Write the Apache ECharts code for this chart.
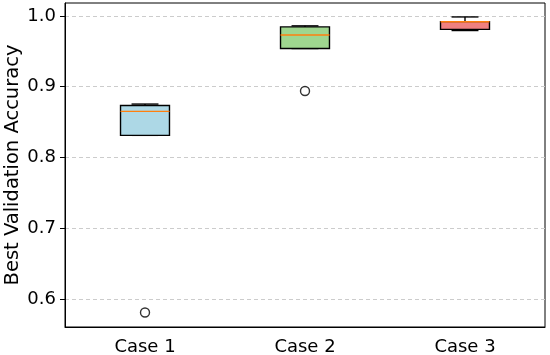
<!DOCTYPE html>
<html>
<head>
<meta charset="utf-8">
<script src="https://cdn.jsdelivr.net/npm/echarts@6/dist/echarts.min.js"></script>
<style>html,body{margin:0;padding:0;background:#fff}#c{width:550px;height:355px}</style>
</head>
<body>
<div id="c"></div>
<script>
var categories = ['Case 1', 'Case 2', 'Case 3'];
// [lower whisker, Q1, median, Q3, upper whisker]
var boxStats = [
  [0.8313, 0.8313, 0.8652, 0.8735, 0.8755],
  [0.954, 0.954, 0.973, 0.9845, 0.986],
  [0.9794, 0.981, 0.9918, 0.992, 0.9986]
];
var outliers = [[0, 0.581], [1, 0.894]];
var boxColors = ['#add8e6', '#9fd68f', '#f08080'];
var yTicks = [0.6, 0.7, 0.8, 0.9, 1.0];

var FONT = 'DejaVu Sans';
var chart = echarts.init(document.getElementById('c'), null, {renderer: 'canvas'});

var boxData = boxStats.map(function (s, i) { return [i].concat(s); });

function renderBox(params, api) {
  var i = api.value(0);
  var lo = api.coord([i, api.value(1)]);
  var q1 = api.coord([i, api.value(2)]);
  var med = api.coord([i, api.value(3)]);
  var q3 = api.coord([i, api.value(4)]);
  var hi = api.coord([i, api.value(5)]);
  var band = api.size([1, 0])[0];
  var bw = band * 0.306;
  var cw = bw * 0.55;
  var x = q1[0];
  var ls = {stroke: '#000', lineWidth: 1.4};
  return {
    type: 'group',
    children: [
      {type: 'line', shape: {x1: x, y1: q3[1], x2: x, y2: hi[1]}, style: ls},
      {type: 'line', shape: {x1: x, y1: q1[1], x2: x, y2: lo[1]}, style: ls},
      {type: 'line', shape: {x1: x - cw / 2, y1: hi[1], x2: x + cw / 2, y2: hi[1]}, style: ls},
      {type: 'line', shape: {x1: x - cw / 2, y1: lo[1], x2: x + cw / 2, y2: lo[1]}, style: ls},
      {type: 'rect', shape: {x: x - bw / 2, y: q3[1], width: bw, height: q1[1] - q3[1]},
        style: {fill: boxColors[i], stroke: '#000', lineWidth: 1.4}},
      {type: 'line', shape: {x1: x - bw / 2, y1: med[1], x2: x + bw / 2, y2: med[1]},
        style: {stroke: '#ff7f0e', lineWidth: 1.4}}
    ]
  };
}

chart.setOption({
  animation: false,
  grid: {left: 65, right: 5, top: 3, bottom: 28, containLabel: false, outerBoundsMode: 'none',
    show: true, borderColor: '#000', borderWidth: 1, backgroundColor: 'transparent'},
  xAxis: {
    type: 'category',
    data: categories,
    boundaryGap: true,
    axisLine: {lineStyle: {color: '#000', width: 1}},
    axisTick: {alignWithLabel: true, length: 5, lineStyle: {color: '#000'}},
    axisLabel: {color: '#000', fontFamily: FONT, fontSize: 18, margin: 11},
    splitLine: {show: false}
  },
  yAxis: {
    type: 'value',
    min: 0.5605,
    max: 1.0183,
    name: 'Best Validation Accuracy',
    nameLocation: 'middle',
    nameGap: 42,
    nameMoveOverlap: false,
    nameTextStyle: {color: '#000', fontFamily: FONT, fontSize: 19.5},
    axisLine: {show: true, lineStyle: {color: '#000', width: 1}},
    axisTick: {show: true, length: 5, lineStyle: {color: '#000'}, customValues: yTicks},
    axisLabel: {color: '#000', fontFamily: FONT, fontSize: 18, margin: 9, customValues: yTicks,
      formatter: function (v) { return v.toFixed(1); }},
    splitLine: {show: true, lineStyle: {color: '#cccccc', type: [4, 3], width: 1}}
  },
  series: [
    {
      type: 'custom',
      renderItem: renderBox,
      encode: {x: 0, y: [1, 2, 3, 4, 5]},
      data: boxData,
      z: 3
    },
    {
      type: 'scatter',
      data: outliers,
      symbol: 'circle',
      symbolSize: 9,
      itemStyle: {color: '#fff', borderColor: '#000', borderWidth: 1.4},
      z: 4
    }
  ]
});
</script>
</body>
</html>
